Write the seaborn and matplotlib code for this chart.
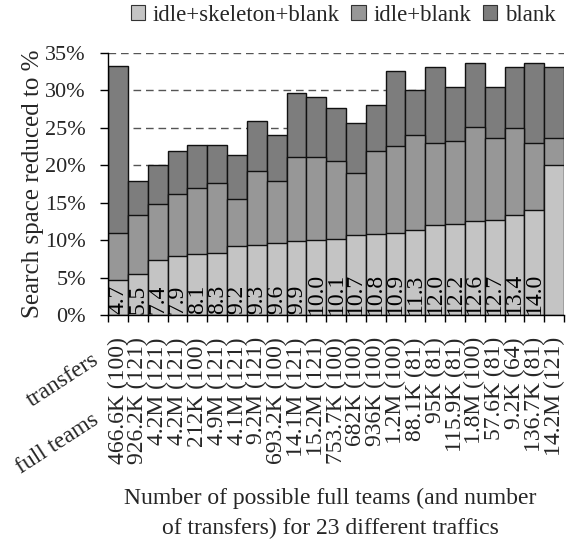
import matplotlib
matplotlib.use("Agg")
import matplotlib.pyplot as plt
import seaborn as sns
import pandas as pd
from matplotlib.patches import Patch

# ---- data ----
full_teams = ["466.6K", "926.2K", "4.2M", "4.2M", "212K", "4.9M", "4.1M", "9.2M",
              "693.2K", "14.1M", "15.2M", "753.7K", "682K", "936K", "1.2M", "88.1K",
              "95K", "115.9K", "1.8M", "57.6K", "9.2K", "136.7K", "14.2M"]
transfers = [100, 121, 121, 121, 100, 121, 121, 121, 100, 121, 121, 100, 100, 100,
             100, 81, 81, 81, 100, 81, 64, 81, 121]
idle_skeleton_blank = [4.7, 5.5, 7.4, 7.9, 8.1, 8.3, 9.2, 9.3, 9.6, 9.9, 10.0, 10.1,
                       10.7, 10.8, 10.9, 11.3, 12.0, 12.2, 12.6, 12.7, 13.4, 14.0, 20.0]
idle_blank = [11.0, 13.4, 14.8, 16.2, 17.0, 17.6, 15.5, 19.2, 17.9, 21.1, 21.1, 20.5,
              18.9, 21.9, 22.6, 24.0, 23.0, 23.2, 25.1, 23.7, 25.0, 22.9, 23.7]
blank = [33.3, 17.9, 20.0, 21.9, 22.7, 22.7, 21.3, 25.9, 24.0, 29.7, 29.1, 27.7,
         25.6, 28.0, 32.6, 30.1, 33.1, 30.4, 33.6, 30.4, 33.1, 33.6, 33.1]
bar_labels = [f"{v:.1f}" for v in idle_skeleton_blank[:-1]] + [""]
series_names = ["idle+skeleton+blank", "idle+blank", "blank"]
colors = ["#c4c4c4", "#979797", "#7d7d7d"]
yticks = [0, 5, 10, 15, 20, 25, 30, 35]

tick_labels = [f"{t} ({n})" for t, n in zip(full_teams, transfers)]
idx = list(range(len(tick_labels)))
df = pd.DataFrame({"traffic": idx,
                   "isb": idle_skeleton_blank,
                   "ib": idle_blank,
                   "b": blank})

sns.set_theme(style="white")
plt.rcParams["font.family"] = ["Liberation Serif", "DejaVu Serif"]
plt.rcParams["font.size"] = 16

fig = plt.figure(figsize=(5.75, 5.45), dpi=100)
ax = fig.add_axes([0.188, 0.422, 0.793, 0.481])

ax.yaxis.grid(True, linestyle=(0, (5.5, 3.5)), color="#555555", linewidth=1.0)
ax.set_axisbelow(True)

for col, c in zip(["b", "ib", "isb"], [colors[2], colors[1], colors[0]]):
    sns.barplot(data=df, x="traffic", y=col, color=c, width=1.0,
                edgecolor="#111111", linewidth=1.0, saturation=1, ax=ax,
                order=idx, errorbar=None)

# value labels inside the lightest bars
for i, lab in enumerate(bar_labels):
    if lab:
        ax.text(i, 0.2, lab, rotation=90, ha="center", va="bottom",
                fontsize=17, color="black")

ax.set_xlim(-0.5, len(tick_labels) - 0.5)
ax.set_ylim(0, 35)
ax.set_yticks(yticks)
ax.set_yticklabels([f"{v}%" for v in yticks], fontsize=16)
ax.set_xticks(idx)
ax.set_xticklabels(tick_labels, rotation=90, fontsize=17, va="top", ha="center")
ax.set_xticks([i + 0.5 for i in range(-1, len(tick_labels))], minor=True)
ax.tick_params(axis="x", which="major", length=0, pad=16)
ax.tick_params(axis="x", which="minor", length=5, width=1, color="black",
               direction="out", bottom=True)
ax.tick_params(axis="y", length=6, width=1, color="black", direction="out",
               left=True, pad=10)

for s in ["top", "right"]:
    ax.spines[s].set_visible(False)
for s in ["left", "bottom"]:
    ax.spines[s].set_color("black")
    ax.spines[s].set_linewidth(1.0)

ax.set_xlabel("")
ax.set_ylabel("Search space reduced to %", fontsize=18, labelpad=1)

fig.text(0.574, 0.058, "Number of possible full teams (and number\nof transfers) for 23 different traffics",
         ha="center", va="center", fontsize=17, linespacing=1.55)

fig.text(0.110, 0.303, "transfers", rotation=33, ha="center", va="center", fontsize=17)
fig.text(0.099, 0.185, "full teams", rotation=33, ha="center", va="center", fontsize=17)

handles = [Patch(facecolor=c, edgecolor="#333333", linewidth=0.8) for c in colors]
fig.legend(handles, series_names, loc="center", bbox_to_anchor=(0.597, 0.972),
           ncol=3, frameon=False, fontsize=16.5, handlelength=0.62, handleheight=0.62,
           handletextpad=0.35, columnspacing=0.5, borderaxespad=0)

fig.savefig("out.png", dpi=100)
